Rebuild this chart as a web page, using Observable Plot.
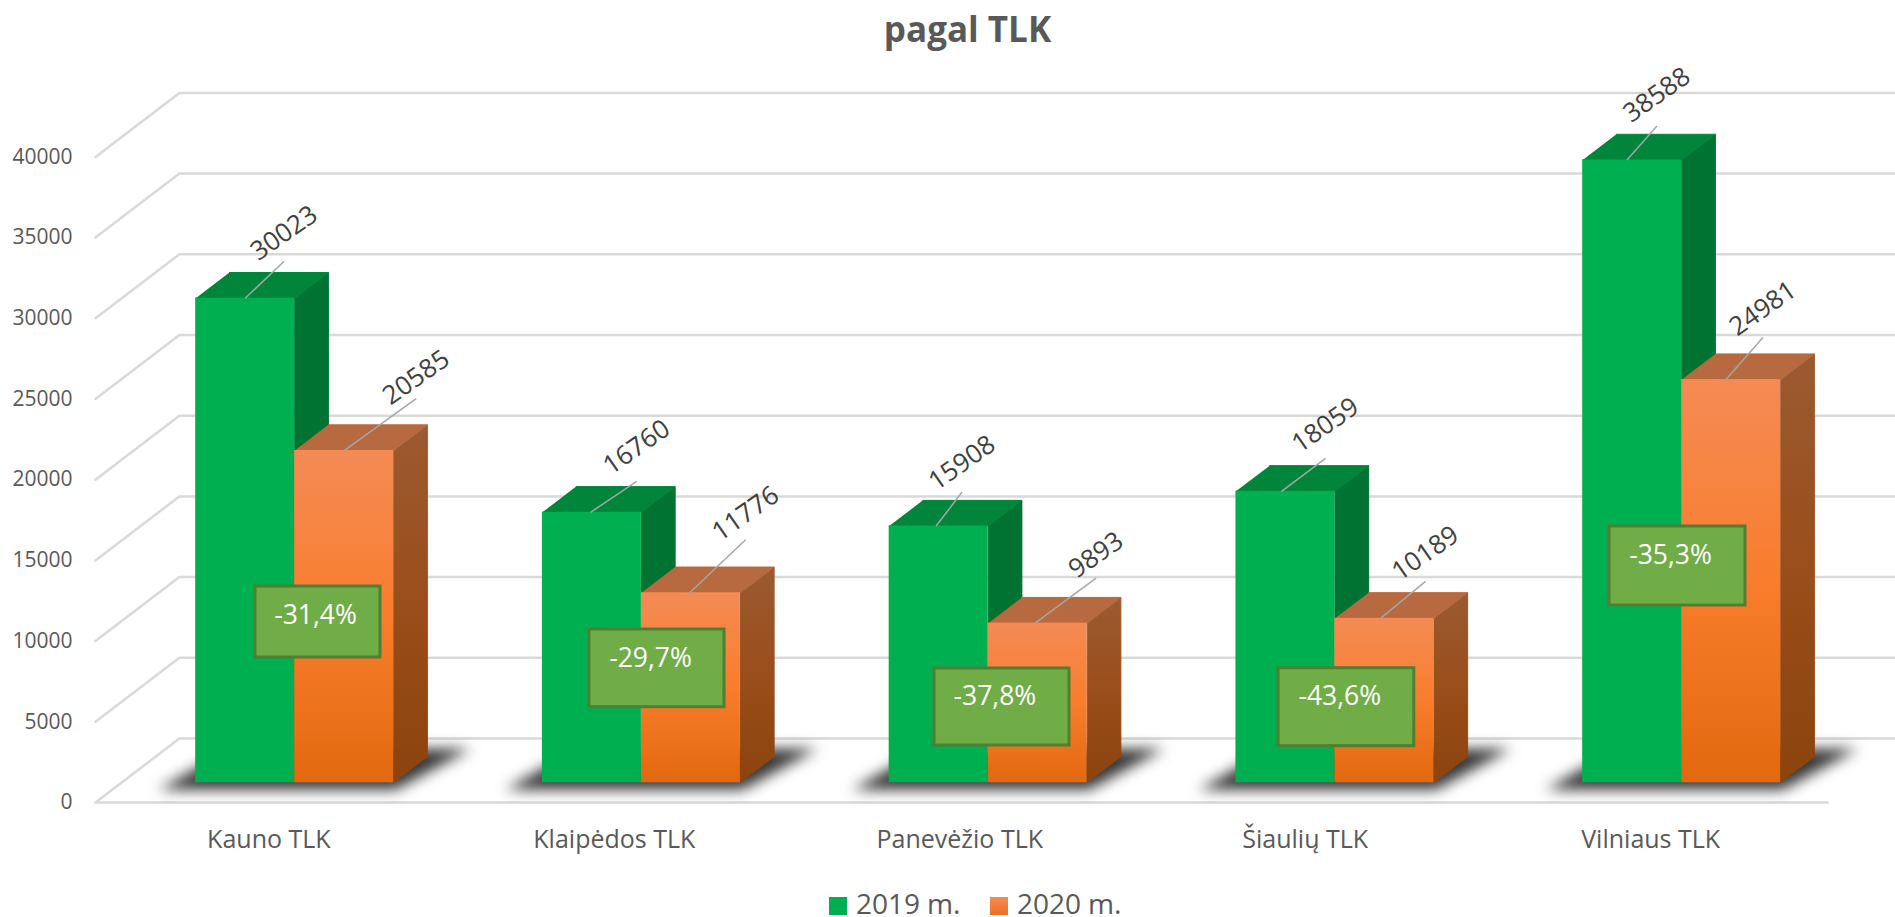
<!DOCTYPE html>
<html lang="lt">
<head>
<meta charset="utf-8">
<title>pagal TLK</title>
<script src="https://cdn.jsdelivr.net/npm/d3@7"></script>
<script src="https://cdn.jsdelivr.net/npm/@observablehq/plot@0.6"></script>
<style>
  @font-face { font-family: "Legend Sans"; src: local("Open Sans"), local("Open Sans Regular"), local("OpenSans-Regular");
               ascent-override: 80%; descent-override: 5%; line-gap-override: 0%; }
  html, body { margin: 0; padding: 0; background: #fff; overflow: hidden; }
  body { width: 1895px; height: 917px; font-family: "Open Sans", sans-serif; }
  #title { height: 60px; box-sizing: border-box; padding-left: 40px; text-align: center;
           font-size: 35px; font-weight: 700; color: #595959; line-height: 58px; margin: 0; }
  #chart { height: 800px; }
  #chart svg { display: block; }
  #legend { height: 57px; box-sizing: border-box; padding: 33px 0 0 54px; display: flex; justify-content: center;
            align-items: flex-start; font-family: "Legend Sans", "Open Sans", sans-serif; font-size: 28px; color: #595959; }
  .key { display: flex; align-items: flex-start; margin: 0 15px; }
  .key span { display: block; line-height: 22px; height: 22px; }
  .swatch { width: 18px; height: 18px; margin: 4px 9px 0 0; }
</style>
</head>
<body>
<h1 id="title">pagal TLK</h1>
<div id="chart"></div>
<div id="legend"></div>
<script>
// ---- data ----
const chartTitle = "pagal TLK";
const categories = ["Kauno TLK", "Klaipėdos TLK", "Panevėžio TLK", "Šiaulių TLK", "Vilniaus TLK"];
const series2019 = [30023, 16760, 15908, 18059, 38588];
const series2020 = [20585, 11776, 9893, 10189, 24981];
const changeLabels = ["-31,4%", "-29,7%", "-37,8%", "-43,6%", "-35,3%"];
const yTicks = [0, 5000, 10000, 15000, 20000, 25000, 30000, 35000, 40000];
const seriesNames = ["2019 m.", "2020 m."];

// ---- layout of the pseudo-3D drawing ----
const slotPx = 346.75, pxPerUnit = 0.01614;
const depthX = 33.7 / slotPx, depthY = 25.7 / pxPerUnit;   // one bar depth, in data units
const zFront = -0.7665, zBack = 1.724;                     // floor edges, in bar depths
const barW = 0.2855;
const labelDrift = 1.3 / slotPx;                           // labels sit on a slightly narrower slot than bars
const P = (x, v, z = 0) => ({x: x + z * depthX, y: v + z * depthY});

// leader tip offset from the bar's top edge and label offset from the tip, in px
const leaderOff2019 = [[39, -37], [46, -31], [26, -34], [44, -33], [30, -34]];
const leaderOff2020 = [[72, -52], [56, -53], [61, -45], [45, -37], [37, -42]];
const labelOff2019 = [-28, -34, -29, -33, -31];
const labelOff2020 = [-21, -26, -23, -28, -29];
// callout boxes, in slot units and axis values
const boxX1 = [0.3870, 1.3502, 2.3452, 3.3375, 4.2919];
const boxX2 = [0.7475, 1.7396, 2.7346, 3.7288, 4.6840];
const boxTop = [12162, 9498, 7082, 7100, 15880];
const boxBottom = [7763, 4684, 2311, 2268, 10985];
const boxTextX = [0.5601, 1.5262, 2.5192, 3.5140, 4.4679];
const boxTextY = [10365, 7720, 5366, 5347, 14083];

// ---- tables derived from the data ----
const faces = (id, pts) => pts.map(p => ({id, ...p}));
const bars = (values, off) => values.map((v, i) => ({
  i, v, x1: i + off, x2: i + off + barW
}));
const bars19 = bars(series2019, 0.5 - barW);
const bars20 = bars(series2020, 0.5);
const sideFaces = bs => bs.flatMap(b => faces(b.i, [P(b.x2, 0), P(b.x2, b.v), P(b.x2, b.v, 1), P(b.x2, 0, 1)]));
const topFaces = bs => bs.flatMap(b => faces(b.i, [P(b.x1, b.v), P(b.x2, b.v), P(b.x2, b.v, 1), P(b.x1, b.v, 1)]));

const gridLines = yTicks.flatMap(t => faces(t, [P(0, t, zFront), P(0, t, zBack), P(4.955, t, zBack)]));
const shadows = categories.flatMap((_, i) => {
  const xl = i + 0.5 - barW, xr = i + 0.5 + barW;
  return [
    {id: i, x: xl - 0.1068, y: -434}, {id: i, x: xr + 0.0058, y: -434},
    {id: i, x: xr + 0.2223, y: 2107}, {id: i, x: xl + 0.101, y: 2107}
  ];
});
const leaders = [[bars19, leaderOff2019, labelOff2019], [bars20, leaderOff2020, labelOff2020]]
  .flatMap(([bs, off, lab]) => bs.map(b => {
    const bx = (b.x1 + b.x2) / 2 - b.i * labelDrift;
    const tx = bx + off[b.i][0] / slotPx, ty = b.v - off[b.i][1] / pxPerUnit;
    return {bx, by: b.v, tx, ty, lx: tx, ly: ty - lab[b.i] / pxPerUnit, text: String(b.v)};
  }));
const boxes = categories.map((_, i) => ({
  x1: boxX1[i], x2: boxX2[i], y1: boxBottom[i], y2: boxTop[i],
  tx: boxTextX[i], ty: boxTextY[i], text: changeLabels[i]
}));

// ---- gradients ----
function gradient(defs, id, stops) {
  const g = defs.append("linearGradient").attr("id", id).attr("x1", 0).attr("y1", 0).attr("x2", 0).attr("y2", 1);
  stops.forEach(([o, c]) => g.append("stop").attr("offset", o).attr("stop-color", c));
}
const defsMark = () => {
  const defs = d3.create("svg:defs");
  gradient(defs, "orangeFront", [[0, "#f48b55"], [0.5, "#f97d2c"], [1, "#e2690f"]]);
  gradient(defs, "orangeSide", [[0, "#9b5a31"], [0.5, "#9a4e1b"], [1, "#8c430c"]]);
  return defs.node();
};

const faceOpts = (fill, stroke = "none") => ({x: "x", y: "y", z: "id", fill, stroke, strokeWidth: 1});
const catTicks = categories.map((_, i) => i + 0.5 - i * labelDrift);

const plot = Plot.plot({
  width: 1895,
  height: 800,
  marginLeft: 72,
  marginBottom: 30,
  marginTop: 0,
  marginRight: 0,
  x: {domain: [0, 5], range: [120.8, 120.8 + 5 * slotPx]},
  y: {domain: [0, 40000], range: [722.3, 76.7]},
  style: {fontFamily: "'Open Sans', sans-serif", background: "transparent", overflow: "visible"},
  marks: [
    defsMark,
    // gridded floor and back wall
    Plot.line(gridLines, {x: "x", y: "y", z: "id", stroke: "#d9d9d9", strokeWidth: 2.5}),
    Plot.line(faces("f", [P(0, 0, zFront), P(4.995, 0, zFront)]), {x: "x", y: "y", stroke: "#d9d9d9", strokeWidth: 2.5}),
    // floor shadows
    Plot.line(shadows, {...faceOpts("#363636"), imageFilter: "blur(7px)"}),
    // bars
    Plot.line(sideFaces(bars19), faceOpts("#007232", "#007232")),
    Plot.line(topFaces(bars19), faceOpts("#00853a", "#00853a")),
    Plot.rect(bars19, {x1: "x1", x2: "x2", y1: 0, y2: "v", fill: "#00b050"}),
    Plot.line(sideFaces(bars20), faceOpts("url(#orangeSide)", "url(#orangeSide)")),
    Plot.line(topFaces(bars20), faceOpts("#b7693f", "#b7693f")),
    Plot.rect(bars20, {x1: "x1", x2: "x2", y1: 0, y2: "v", fill: "url(#orangeFront)"}),
    // value leaders and labels
    Plot.link(leaders, {x1: "bx", y1: "by", x2: "tx", y2: "ty", stroke: "#a6a6a6", strokeWidth: 1.5}),
    Plot.text(leaders, {x: "lx", y: "ly", text: "text", rotate: -35, fontSize: 26, fill: "#404040"}),
    // change callouts
    Plot.rect(boxes, {x1: "x1", x2: "x2", y1: "y1", y2: "y2", fill: "#70ad47", stroke: "#507e32", strokeWidth: 3}),
    Plot.text(boxes, {x: "tx", y: "ty", text: "text", fontSize: 26.5, fill: "#ffffff"}),
    // axes
    Plot.axisY(yTicks, {anchor: "left", tickSize: 0, tickPadding: 0, dy: 19.7, fontSize: 21, fill: "#595959",
                        tickFormat: d => String(d), label: null}),
    Plot.axisX(catTicks, {anchor: "bottom", tickSize: 0, tickPadding: 0, dx: -25.8, fontSize: 25,
                        fill: "#595959", tickFormat: d => categories[catTicks.indexOf(d)], label: null})
  ]
});
document.getElementById("chart").append(plot);
document.getElementById("title").textContent = chartTitle;

// ---- legend ----
const legendFills = ["#00b050", "linear-gradient(#f48b55, #ee7020)"];
const legend = d3.select("#legend");
seriesNames.forEach((name, i) => {
  const key = legend.append("div").attr("class", "key");
  key.append("div").attr("class", "swatch").style("background", legendFills[i]);
  key.append("span").text(name);
});
</script>
</body>
</html>
